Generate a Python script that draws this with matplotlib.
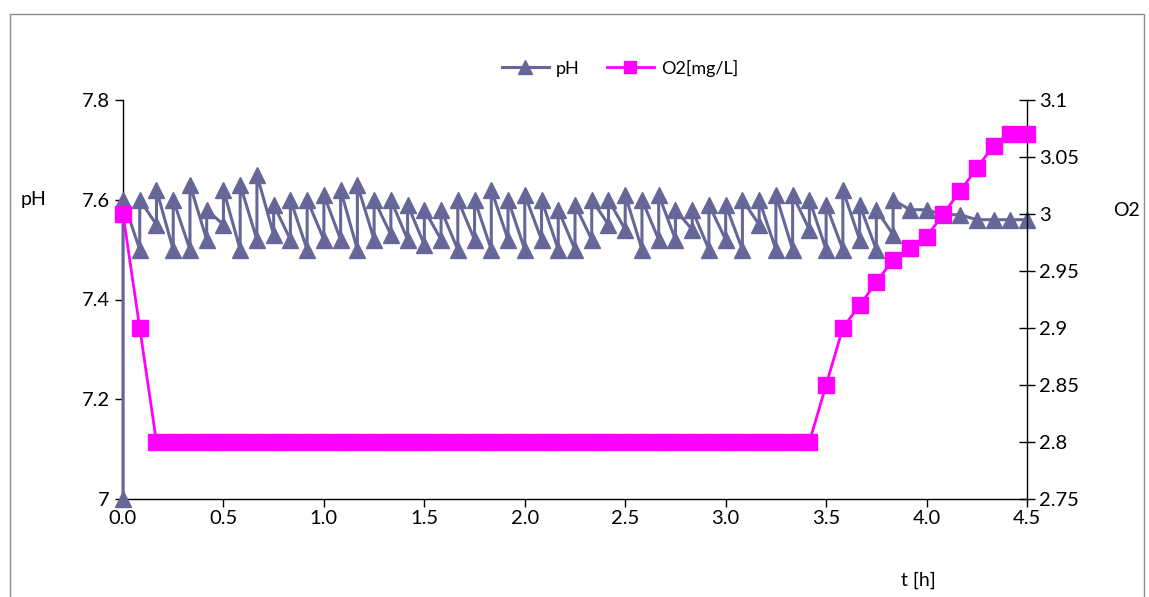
import matplotlib
matplotlib.use("Agg")
import matplotlib.pyplot as plt
from matplotlib.patches import Rectangle
import numpy as np

plt.rcParams['font.family'] = ['Lato', 'DejaVu Sans']

# time columns (h), every 5 minutes
t_min = list(range(0, 275, 5))
# pH: (top, bottom) per time column, drawn as bottom->top per column
ph_top = [7.60, 7.60, 7.62, 7.60, 7.63, 7.58, 7.62, 7.63, 7.65, 7.59,
          7.60, 7.60, 7.61, 7.62, 7.63, 7.60, 7.60, 7.59, 7.58, 7.58,
          7.60, 7.60, 7.62, 7.60, 7.61, 7.60, 7.58, 7.59, 7.60, 7.60,
          7.61, 7.60, 7.61, 7.58, 7.58, 7.59, 7.59, 7.60, 7.60, 7.61,
          7.61, 7.60, 7.59, 7.62, 7.59, 7.58, 7.60, 7.58, 7.58, 7.57,
          7.57, 7.56, 7.56, 7.56, 7.56]
ph_bottom = [7.00, 7.50, 7.55, 7.50, 7.50, 7.52, 7.55, 7.50, 7.52, 7.53,
             7.52, 7.50, 7.52, 7.52, 7.50, 7.52, 7.53, 7.52, 7.51, 7.52,
             7.50, 7.52, 7.50, 7.52, 7.50, 7.52, 7.50, 7.50, 7.52, 7.55,
             7.54, 7.50, 7.52, 7.52, 7.54, 7.50, 7.52, 7.50, 7.55, 7.50,
             7.50, 7.54, 7.50, 7.50, 7.52, 7.50, 7.53, None, None, None,
             None, None, None, None, None]
# O2 [mg/L] per time column
o2 = [3.00, 2.90] + [2.80] * 40 + [2.85, 2.90, 2.92, 2.94, 2.96, 2.97,
                                   2.98, 3.00, 3.02, 3.04, 3.06, 3.07, 3.07]

t_h = [m / 60.0 for m in t_min]
ph_x, ph_y = [], []
for x, top, bot in zip(t_h, ph_top, ph_bottom):
    if bot is not None:
        ph_x.append(x); ph_y.append(bot)
    ph_x.append(x); ph_y.append(top)

W, H = 1149, 597
fig = plt.figure(figsize=(W / 100, H / 100), dpi=100)
ax = fig.add_axes([123 / W, 1 - 499 / H, (1027 - 123) / W, (499 - 100) / H])
ax2 = ax.twinx()

ph_col = '#666699'
o2_col = '#FF00FF'
l1, = ax.plot(ph_x, ph_y, color=ph_col, lw=2.2, marker='^', ms=12,
              markeredgecolor=ph_col, label='pH', zorder=3, clip_on=False)
l2, = ax2.plot(t_h, o2, color=o2_col, lw=2.0, marker='s', ms=11,
               markeredgecolor=o2_col, label='O2[mg/L]', zorder=4, clip_on=False)

ax.set_xlim(0, 4.5)
ax.set_ylim(7.0, 7.8)
ax2.set_ylim(2.75, 3.1)
ax.set_xticks(np.arange(0, 4.51, 0.5))
ax.set_xticklabels([f'{v:.1f}' for v in np.arange(0, 4.51, 0.5)])
ax.set_yticks([7.0, 7.2, 7.4, 7.6, 7.8])
ax.set_yticklabels(['7', '7.2', '7.4', '7.6', '7.8'])
r_ticks = [2.75, 2.8, 2.85, 2.9, 2.95, 3.0, 3.05, 3.1]
ax2.set_yticks(r_ticks)
ax2.set_yticklabels(['2.75', '2.8', '2.85', '2.9', '2.95', '3', '3.05', '3.1'])

for a in (ax, ax2):
    a.spines['top'].set_visible(False)
    for s in a.spines.values():
        s.set_linewidth(1.0)
ax.spines['right'].set_visible(False)
ax2.spines['left'].set_visible(False)
ax2.spines['bottom'].set_visible(False)
ax2.patch.set_visible(False)
ax.tick_params(axis='both', labelsize=14.5, length=6, width=1, direction='out')
ax.tick_params(axis='x', pad=2)
ax2.tick_params(axis='y', labelsize=14.5, length=12, width=1, direction='inout', pad=3)

fig.text(33 / W, 1 - 200 / H, 'pH', fontsize=14, ha='center', va='center')
fig.text(1127 / W, 1 - 210 / H, 'O2', fontsize=14, ha='center', va='center')
fig.text(918 / W, 1 - 580 / H, 't [h]', fontsize=14, ha='center', va='center')

fig.legend(handles=[l1, l2], loc='center', bbox_to_anchor=(620 / W, 1 - 68 / H),
           ncol=2, frameon=False, fontsize=13, handlelength=2.6,
           columnspacing=1.5, handletextpad=0.4, markerscale=0.8)

fig.patches.append(Rectangle((10 / W, -0.05), (1144 - 10) / W, 1 - 14 / H + 0.05,
                             transform=fig.transFigure, fill=False,
                             edgecolor='#8c8c8c', lw=1.0))
fig.savefig('out.png', dpi=100)
